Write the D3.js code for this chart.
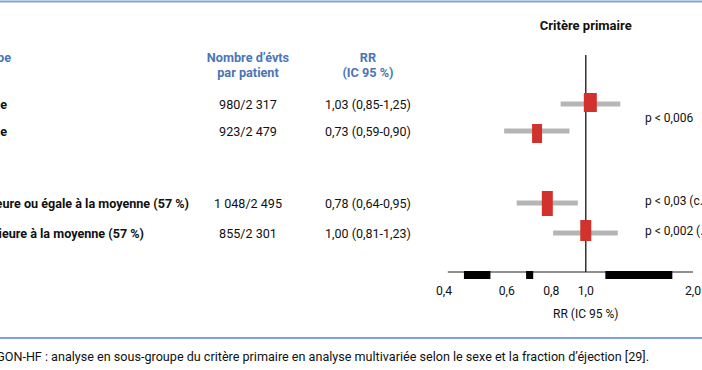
<!DOCTYPE html>
<html>
<head>
<meta charset="utf-8">
<script src="https://cdn.jsdelivr.net/npm/d3@7"></script>
<style>
  body { margin: 0; background: #fff; }
  svg { display: block; font-family: Roboto, "Noto Sans", sans-serif; }
</style>
</head>
<body>
<div id="viz"></div>
<script>
// Rows of the forest plot
const groups = ["Homme", "Femme",
  "FEVG supérieure ou égale à la moyenne (57 %)",
  "FEVG inférieure à la moyenne (57 %)"];
const events = ["980/2 317", "923/2 479", "1 048/2 495", "855/2 301"];
const rr = [1.03, 0.73, 0.78, 1.00];
const lo = [0.85, 0.59, 0.64, 0.81];
const hi = [1.25, 0.90, 0.95, 1.23];
const rrLabels = ["1,03 (0,85-1,25)", "0,73 (0,59-0,90)", "0,78 (0,64-0,95)", "1,00 (0,81-1,23)"];
const pLabels = ["p < 0,006", "p < 0,03 (c…)", "p < 0,002 (…)"];
const ticks = [0.4, 0.6, 0.8, 1.0, 2.0];
const tickLabels = ["0,4", "0,6", "0,8", "1,0", "2,0"];
// black blocks sitting under the axis (in RR units)
const blocks = [[0.455, 0.54], [0.68, 0.712], [1.135, 1.75]];

const w = 702, h = 370;
const blue = "#4a76b6", red = "#d2322d", grey = "#b5b5b5";

const svg = d3.select("#viz").append("svg")
  .attr("width", w).attr("height", h);

// frame lines
svg.append("line").attr("x1", 0).attr("x2", w).attr("y1", 1.5).attr("y2", 1.5)
  .attr("stroke", "#7fa3d6").attr("stroke-width", 2);
svg.append("line").attr("x1", 0).attr("x2", w).attr("y1", 338).attr("y2", 338)
  .attr("stroke", "#7fa3d6").attr("stroke-width", 2);

const x = d3.scaleLog().domain([0.4, 2.0]).range([444, 693]);
const y = d3.scaleOrdinal().domain(groups).range([104, 131, 203, 233]);
const axisY = 272;

// headers
svg.append("text").attr("x", 11).attr("y", 62).attr("text-anchor", "end")
  .attr("fill", blue).attr("font-weight", "bold").attr("font-size", 12.7)
  .text("Sous-groupe");
const head = svg.append("g").attr("fill", blue).attr("font-weight", "bold")
  .attr("font-size", 12.7).attr("text-anchor", "middle");
head.append("text").attr("x", 248).attr("y", 62).text("Nombre d’évts");
head.append("text").attr("x", 248).attr("y", 77).text("par patient");
head.append("text").attr("x", 368).attr("y", 62).text("RR");
head.append("text").attr("x", 368).attr("y", 77).text("(IC 95 %)");

svg.append("text").attr("x", x(1)).attr("y", 30).attr("text-anchor", "middle")
  .attr("font-weight", "bold").attr("font-size", 13).attr("fill", "#111")
  .text("Critère primaire");

// row texts (left part is cropped by the frame, as in the source)
const labelEnds = [7, 7, 189, 144];
const rows = svg.selectAll("g.row").data(groups).enter().append("g").attr("class", "row");
rows.append("text").attr("x", (d, i) => labelEnds[i]).attr("y", d => y(d) + 4.5)
  .attr("text-anchor", "end").attr("font-weight", "bold").attr("font-size", 12.6)
  .attr("fill", "#111").text(d => d);
rows.append("text").attr("x", 248).attr("y", d => y(d) + 4.5)
  .attr("text-anchor", "middle").attr("font-size", 12.6).attr("fill", "#111")
  .text((d, i) => events[i]);
rows.append("text").attr("x", 368).attr("y", d => y(d) + 4.5)
  .attr("text-anchor", "middle").attr("font-size", 12.5).attr("fill", "#111")
  .text((d, i) => rrLabels[i]);

// reference line at RR = 1
svg.append("line").attr("x1", x(1)).attr("x2", x(1)).attr("y1", 55).attr("y2", axisY)
  .attr("stroke", "#333").attr("stroke-width", 1.5);

// CI bars
svg.selectAll("rect.ci").data(groups).enter().append("rect").attr("class", "ci")
  .attr("x", (d, i) => x(lo[i])).attr("width", (d, i) => x(hi[i]) - x(lo[i]))
  .attr("y", d => y(d) - 2.5).attr("height", 5).attr("fill", grey);

// point estimates
const boxW = [13, 10, 11, 11], boxH = [19, 19, 25, 21];
const boxDy = [-11, -7, -12, -13];
svg.selectAll("rect.pt").data(groups).enter().append("rect").attr("class", "pt")
  .attr("x", (d, i) => x(rr[i]) - boxW[i] / 2).attr("width", (d, i) => boxW[i])
  .attr("y", (d, i) => y(d) + boxDy[i]).attr("height", (d, i) => boxH[i])
  .attr("fill", red);

// p values
const pY = [(y(groups[0]) + y(groups[1])) / 2, y(groups[2]) - 3, y(groups[3]) - 3];
svg.selectAll("text.p").data(pLabels).enter().append("text").attr("class", "p")
  .attr("x", 645).attr("y", (d, i) => pY[i] + 4.5).attr("font-size", 12).attr("fill", "#111")
  .text(d => d);

// axis
svg.append("line").attr("x1", x(0.41)).attr("x2", x(2.0)).attr("y1", axisY).attr("y2", axisY)
  .attr("stroke", "#222").attr("stroke-width", 1);
svg.selectAll("rect.blk").data(blocks).enter().append("rect").attr("class", "blk")
  .attr("x", d => x(d[0])).attr("width", d => x(d[1]) - x(d[0]))
  .attr("y", axisY - 1).attr("height", 8).attr("fill", "#000");
svg.selectAll("text.tick").data(ticks).enter().append("text").attr("class", "tick")
  .attr("x", d => x(d)).attr("y", 295).attr("text-anchor", "middle")
  .attr("font-size", 12.2).attr("fill", "#111")
  .text((d, i) => tickLabels[i]);
svg.append("text").attr("x", x(1)).attr("y", 318).attr("text-anchor", "middle")
  .attr("font-size", 12).attr("fill", "#111").text("RR (IC 95 %)");

// caption
svg.append("text").attr("x", 649).attr("y", 361).attr("text-anchor", "end")
  .attr("font-size", 12.6).attr("fill", "#111")
  .text("PARAGON-HF : analyse en sous-groupe du critère primaire en analyse multivariée selon le sexe et la fraction d’éjection [29].");
</script>
</body>
</html>
